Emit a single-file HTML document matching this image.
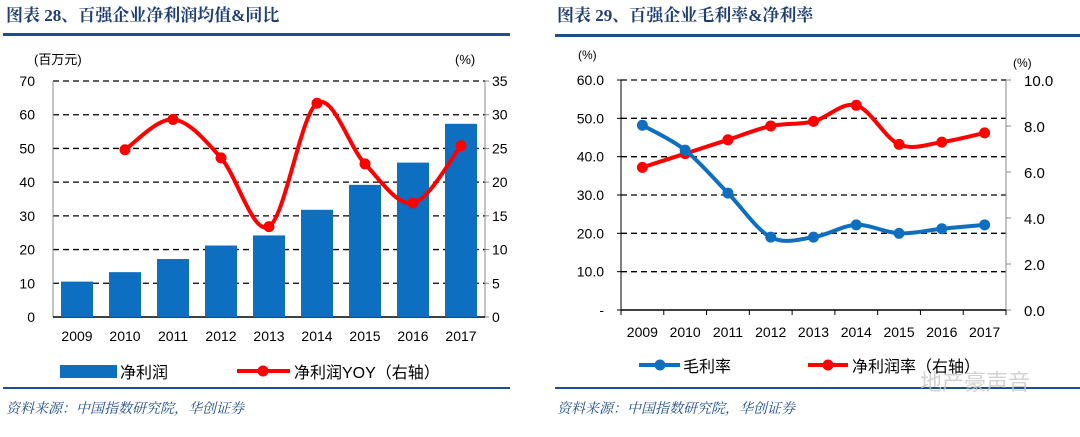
<!DOCTYPE html>
<html><head><meta charset="utf-8">
<style>
body{margin:0;background:#fff;width:1080px;height:432px;overflow:hidden}
svg text{font-family:"Liberation Sans","Noto Sans CJK SC",sans-serif}
.t{font-family:"Liberation Serif","Noto Serif CJK SC",serif;font-weight:bold;font-size:17px;fill:#1f3f74}
.src{font-family:"Liberation Serif","Noto Serif CJK SC",serif;font-style:italic;font-size:14px;fill:#1f4e8c}
</style></head><body>
<svg id="c" width="1080" height="432">
<text class="t" x="6" y="21">图表 28、百强企业净利润均值&amp;同比</text>
<rect x="3" y="33" width="507" height="3" fill="#1f4e8c"/>
<text class="t" x="557" y="21">图表 29、百强企业毛利率&amp;净利率</text>
<rect x="555" y="34" width="525" height="3" fill="#1f4e8c"/>
<rect x="3" y="387" width="507" height="2" fill="#1f4e8c"/>
<rect x="555" y="387" width="525" height="2" fill="#1f4e8c"/>
<text class="src" x="6" y="413">资料来源：中国指数研究院，华创证券</text>
<text class="src" x="557" y="413">资料来源：中国指数研究院，华创证券</text>
<text x="920" y="390" font-size="22" fill="#c8c8c8" opacity="0.8">地产豪声音</text>
<g id="g1"></g><g id="g2"></g>
</svg>
<script>
const years=["2009","2010","2011","2012","2013","2014","2015","2016","2017"];
const profit=[10.5,13.3,17.2,21.2,24.2,31.8,39.2,45.8,57.3];
const yoy=[null,24.8,29.3,23.6,13.4,31.7,22.7,16.9,25.4];
const leftTicks=[0,10,20,30,40,50,60,70];
const rightTicks=[0,5,10,15,20,25,30,35];
const gross=[48.2,41.7,30.5,19.0,19.0,22.2,20.0,21.2,22.2];
const net=[6.2,6.8,7.4,8.0,8.2,8.9,7.2,7.3,7.7];
const gTicks=[0,10,20,30,40,50,60];
const gTickLabels=["-","10.0","20.0","30.0","40.0","50.0","60.0"];
const nTicks=[0,2,4,6,8,10];
const NS="http://www.w3.org/2000/svg";
function mk(p,tag,a,txt){const e=document.createElementNS(NS,tag);for(const k in a)e.setAttribute(k,a[k]);if(txt!=null)e.textContent=txt;p.appendChild(e);return e;}
function smooth(pts){let d=`M${pts[0][0]},${pts[0][1]}`;for(let i=0;i<pts.length-1;i++){const p0=pts[i-1]||pts[i],p1=pts[i],p2=pts[i+1],p3=pts[i+2]||p2;const t=6;d+=` C${p1[0]+(p2[0]-p0[0])/t},${p1[1]+(p2[1]-p0[1])/t} ${p2[0]-(p3[0]-p1[0])/t},${p2[1]-(p3[1]-p1[1])/t} ${p2[0]},${p2[1]}`;}return d;}
// chart 1
const g1=document.getElementById('g1');
const L1=53,R1=485,T1=81,B1=317;
const x1=i=>L1+(R1-L1)/years.length*(i+0.5);
const yl=v=>B1-(v/70)*(B1-T1);
const yr=v=>B1-(v/35)*(B1-T1);
leftTicks.forEach((v,i)=>{
 if(v>0){let l=mk(g1,'line',{x1:L1,x2:R1,y1:yl(v),y2:yl(v),stroke:'#000','stroke-dasharray':'6,4','stroke-width':1.3});}
 let t=mk(g1,'text',{x:35,y:yl(v)+5,'text-anchor':'end','font-size':14},v);
});
rightTicks.forEach(v=>{
 let t=mk(g1,'text',{x:492,y:yr(v)+5,'font-size':14},v);
 mk(g1,'line',{x1:R1,x2:R1+4,y1:yr(v),y2:yr(v),stroke:'#888'});
});
mk(g1,'line',{x1:L1,x2:L1,y1:T1,y2:B1,stroke:'#888'});
mk(g1,'line',{x1:R1,x2:R1,y1:T1,y2:B1,stroke:'#888'});
mk(g1,'line',{x1:L1,x2:R1,y1:B1,y2:B1,stroke:'#000','stroke-width':1.5});
let u=mk(g1,'text',{x:34,y:64,'font-size':13},'(百万元)');
u=mk(g1,'text',{x:455,y:64,'font-size':13},'(%)');
profit.forEach((v,i)=>{
 let r=mk(g1,'rect',{x:x1(i)-16,y:yl(v),width:32,height:B1-yl(v),fill:'#0e6fc1'});
 
});
years.forEach((y,i)=>{let t=mk(g1,'text',{x:x1(i),y:341,'text-anchor':'middle','font-size':14},y);});
const p1=[];yoy.forEach((v,i)=>{if(v!=null)p1.push([x1(i),yr(v)]);});
let ln=mk(g1,'path',{d:smooth(p1),fill:'none',stroke:'#ff0000','stroke-width':4});
p1.forEach(p=>{let c=mk(g1,'circle',{cx:p[0],cy:p[1],r:5.5,fill:'#ff0000'});});
let lg=mk(g1,'rect',{x:60,y:365,width:57,height:13,fill:'#0e6fc1'});
lg=mk(g1,'text',{x:120,y:378,'font-size':16},'净利润');
mk(g1,'line',{x1:237,x2:290,y1:371,y2:371,stroke:'#f00','stroke-width':4});mk(g1,'circle',{cx:263,cy:371,r:5.5,fill:'#f00'});
lg=mk(g1,'text',{x:294,y:378,'font-size':16},'净利润YOY（右轴）');
// chart 2
const g2=document.getElementById('g2');
const L2=621,R2=1006,T2=80,B2=310;
const x2=i=>L2+(R2-L2)/years.length*(i+0.5);
const yg=v=>B2-(v/60)*(B2-T2);
const yn=v=>B2-(v/10)*(B2-T2);
gTicks.forEach((v,i)=>{
 if(v>0){let l=mk(g2,'line',{x1:L2,x2:R2,y1:yg(v),y2:yg(v),stroke:'#000','stroke-dasharray':'6,4','stroke-width':1.3});}
 let t=mk(g2,'text',{x:604,y:yg(v)+5,'text-anchor':'end','font-size':14},gTickLabels[i]);
 mk(g2,'line',{x1:L2-4,x2:L2,y1:yg(v),y2:yg(v),stroke:'#000'});
});
nTicks.forEach(v=>{
 let t=mk(g2,'text',{x:1024,y:yn(v)+6,'font-size':15},v.toFixed(1));
 mk(g2,'line',{x1:R2,x2:R2+5,y1:yn(v),y2:yn(v),stroke:'#888'});
});
mk(g2,'line',{x1:L2,x2:L2,y1:T2,y2:B2,stroke:'#000'});
mk(g2,'line',{x1:R2,x2:R2,y1:T2,y2:B2,stroke:'#888'});
mk(g2,'line',{x1:L2,x2:R2,y1:B2,y2:B2,stroke:'#000','stroke-width':1.5});
years.forEach((y,i)=>{mk(g2,'line',{x1:L2+(R2-L2)/9*i,x2:L2+(R2-L2)/9*i,y1:B2,y2:B2+5,stroke:'#000'});let t=mk(g2,'text',{x:x2(i),y:337,'text-anchor':'middle','font-size':14},y);});
mk(g2,'line',{x1:R2,x2:R2,y1:B2,y2:B2+5,stroke:'#000'});
u=mk(g2,'text',{x:578,y:59,'font-size':12},'(%)');
u=mk(g2,'text',{x:1013,y:67,'font-size':12},'(%)');
const pn=net.map((v,i)=>[x2(i),yn(v)]);
ln=mk(g2,'path',{d:smooth(pn),fill:'none',stroke:'#ff0000','stroke-width':4});
pn.forEach(p=>{let c=mk(g2,'circle',{cx:p[0],cy:p[1],r:5.5,fill:'#ff0000'});});
const pg=gross.map((v,i)=>[x2(i),yg(v)]);
ln=mk(g2,'path',{d:smooth(pg),fill:'none',stroke:'#0e6fc1','stroke-width':4});
pg.forEach(p=>{let c=mk(g2,'circle',{cx:p[0],cy:p[1],r:5.5,fill:'#0e6fc1'});});
mk(g2,'line',{x1:639,x2:680,y1:365,y2:365,stroke:'#0e6fc1','stroke-width':4});mk(g2,'circle',{cx:660,cy:365,r:5.5,fill:'#0e6fc1'});
lg=mk(g2,'text',{x:683,y:372,'font-size':16},'毛利率');
mk(g2,'line',{x1:808,x2:848,y1:365,y2:365,stroke:'#f00','stroke-width':4});mk(g2,'circle',{cx:828,cy:365,r:5.5,fill:'#f00'});
lg=mk(g2,'text',{x:852,y:372,'font-size':16},'净利润率（右轴）');
</script>
</body></html>
